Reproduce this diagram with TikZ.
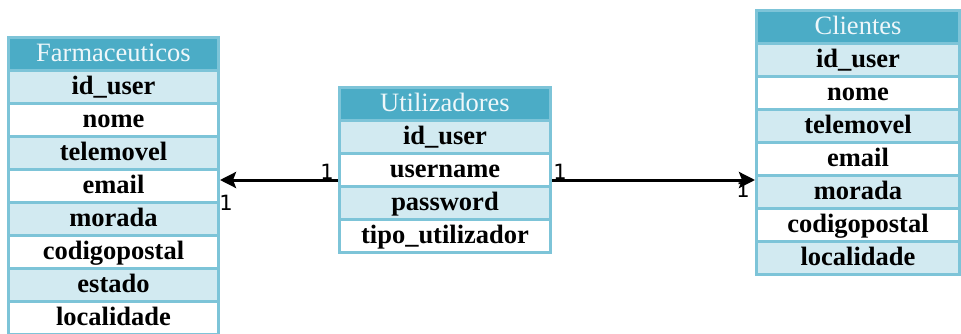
\documentclass[tikz,border=0pt]{standalone}
\usepackage{fontspec}
\setmainfont{Liberation Serif}
\newfontfamily\numfont{DejaVu Sans}
\usetikzlibrary{arrows.meta,calc}
\definecolor{tblborder}{HTML}{7DC4D8}
\definecolor{tblhead}{HTML}{4BACC6}
\definecolor{rowlight}{HTML}{D2EAF1}
\definecolor{headtext}{HTML}{EEF7FA}
\tikzset{
  cellbox/.style={draw=tblborder, line width=3pt, minimum height=33pt,
    inner sep=0pt, text height=20pt, text depth=5pt, text=black,
    font=\fontsize{26.5}{28}\selectfont\bfseries},
  headbox/.style={cellbox, fill=tblhead, text=headtext,
    font=\fontsize{26.5}{28}\selectfont},
  relarrow/.style={line width=3pt, -{Stealth[length=16pt,width=16pt,inset=3pt]}},
  multlabel/.style={font=\numfont\fontsize{21}{23}\selectfont, inner sep=0pt}
}
% one table: #1 name prefix, #2 centre x, #3 width, #4 top y, #5 title, #6 fields
\newcommand\erdtable[6]{%
  \node[headbox, minimum width=#3pt] (#10) at (#2, #4+16.5) {#5};
  \foreach [count=\i] \f in {#6} {%
    \ifodd\i\def\cellfill{rowlight}\else\def\cellfill{white}\fi
    \node[cellbox, fill=\cellfill, minimum width=#3pt] (#1\i) at (#2, #4+16.5+33*\i) {\f};
  }%
}
\begin{document}
\begin{tikzpicture}[x=1pt,y=-1pt]
\useasboundingbox (0,0) rectangle (961,334);

\erdtable{f}{113.5}{210}{37.5}{Farmaceuticos}
  {id\_user,nome,telemovel,email,morada,codigopostal,estado,localidade}
\erdtable{u}{445}{211}{87.5}{Utilizadores}
  {id\_user,username,password,tipo\_utilizador}
\erdtable{c}{858}{203}{10.5}{Clientes}
  {id\_user,nome,telemovel,email,morada,codigopostal,localidade}

% relationships leave the username row
\coordinate (ul) at ([yshift=-10pt]u2.west);
\coordinate (ur) at ([yshift=-10pt]u2.east);
\draw[relarrow] (ul) -- (ul -| f4.east);
\draw[relarrow] (ur) -- (ur -| c4.west);

\node[multlabel] (m1) at (327,172) {1};
\node[multlabel] (m2) at (226,203) {1};
\node[multlabel] (m3) at (560,172) {1};
\node[multlabel] (m4) at (743,190) {1};
\end{tikzpicture}
\end{document}
